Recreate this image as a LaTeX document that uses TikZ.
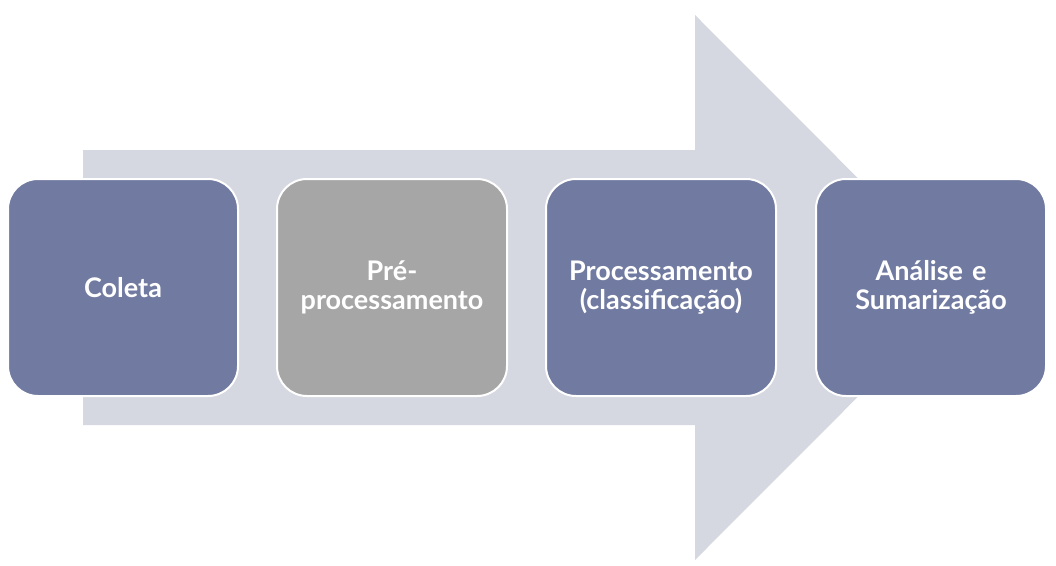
\documentclass[tikz,border=0pt]{standalone}
\usepackage{fontspec}
\setmainfont{Lato}
\definecolor{boxblue}{HTML}{717AA0}
\definecolor{boxgray}{HTML}{A6A6A6}
\definecolor{arrowbg}{HTML}{D5D8E1}
\begin{document}
\begin{tikzpicture}[x=1pt,y=-1pt,
  stagebox/.style={draw=white, line width=2pt, rounded corners=30pt, minimum width=230pt, minimum height=217pt, anchor=north west, align=center, text=white, font=\fontsize{27}{29}\selectfont\bfseries, inner sep=0pt, text width=220pt}]
\useasboundingbox (0,0) rectangle (1056,565);
\fill[arrowbg] (83,150) -- (695,150) -- (695,15) -- (967,287.5) -- (695,560) -- (695,425) -- (83,425) -- cycle;
\node[stagebox, fill=boxblue] (a) at (7,178) {Coleta};
\node[stagebox, fill=boxgray] (b) at (276,178) {Pré-\\processamento};
\node[stagebox, fill=boxblue] (c) at (545,178) {Processamento\\(classificação)};
\node[stagebox, fill=boxblue] (d) at (815,178) {Análise e\\Sumarização};
\end{tikzpicture}
\end{document}
